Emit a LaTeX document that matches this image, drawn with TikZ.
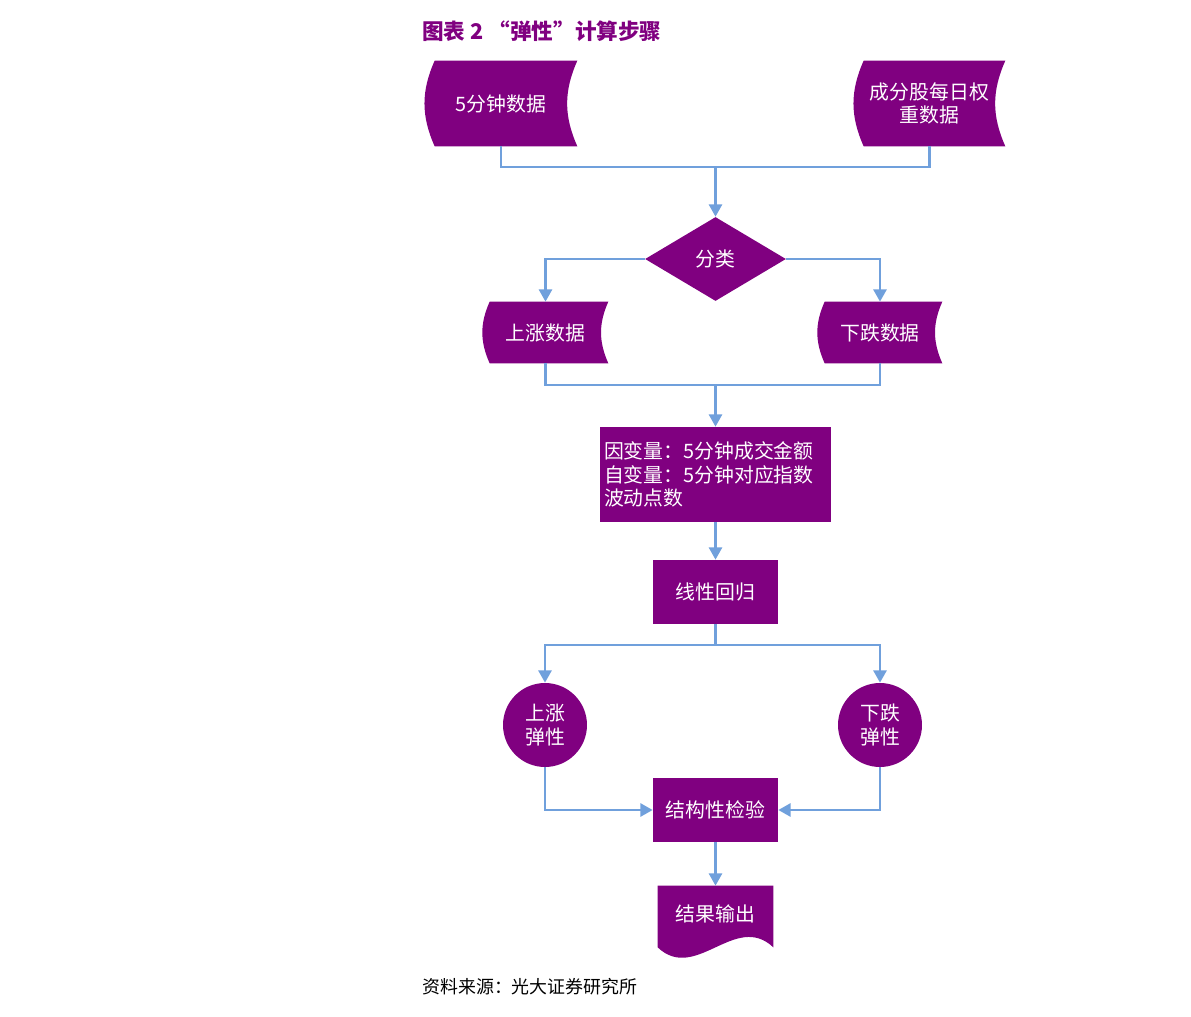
\documentclass[tikz,border=0pt]{standalone}
\usepackage{fontspec}
\setmainfont{Noto Sans CJK SC}
\usetikzlibrary{arrows.meta,shapes.geometric,backgrounds}

\definecolor{purp}{RGB}{128,0,128}
\definecolor{flow}{RGB}{112,160,220}

\tikzset{
  box/.style={fill=purp, text=white, inner sep=0pt, font=\fontsize{11.3}{13.3}\selectfont},
  blank/.style={text=white, inner sep=0pt, font=\fontsize{11.3}{13.3}\selectfont},
  line/.style={draw=flow, line width=1.3pt},
  arr/.style={line, -{Triangle[width=7.5pt,length=7pt]}}
}

\begin{document}
\begin{tikzpicture}[x=0.02cm,y=0.02cm]
  \useasboundingbox (0,0) rectangle (1191,-1017);

  % Titulo
  \node[anchor=west, inner sep=0pt, text=purp, font=\fontsize{12.3}{14}\selectfont\bfseries] (title) at (422,-31) {图表 2 “弹性”计算步骤};

  % Datos de entrada
  \node[blank, minimum width=3.04cm, minimum height=1.70cm] (min5) at (501,-103.5) {5分钟数据};
  \node[blank, minimum width=3.02cm, minimum height=1.70cm, align=center] (wgt) at (929.5,-103.5) {成分股每日权\\重数据};

  % Clasificacion
  \node[box, diamond, aspect=1.68, minimum width=2.82cm, minimum height=1.68cm] (cls) at (715.5,-259) {分类};
  \node[blank, minimum width=2.50cm, minimum height=1.22cm] (up) at (545.5,-332.5) {上涨数据};
  \node[blank, minimum width=2.48cm, minimum height=1.22cm] (down) at (880,-332.5) {下跌数据};

  % Regresion
  \node[box, minimum width=4.62cm, minimum height=1.90cm, text width=4.46cm, align=left] (vars) at (715.5,-474.5) {因变量：5分钟成交金额\\自变量：5分钟对应指数\\波动点数};
  \node[box, minimum width=2.50cm, minimum height=1.28cm] (reg) at (715.5,-592) {线性回归};

  % Elasticidades
  \node[box, circle, minimum size=1.68cm, align=center] (upE) at (545,-725) {上涨\\弹性};
  \node[box, circle, minimum size=1.68cm, align=center] (downE) at (880,-725) {下跌\\弹性};
  \node[box, minimum width=2.50cm, minimum height=1.28cm] (chk) at (715.5,-810) {结构性检验};
  \node[blank, minimum width=2.30cm, minimum height=1.22cm] (out) at (715.5,-916.5) {\raisebox{4pt}{结果输出}};

  \node[anchor=west, inner sep=0pt, font=\fontsize{10.2}{12}\selectfont] (src) at (422,-987) {资料来源：光大证券研究所};

  % Formas de fondo
  \begin{scope}[on background layer]
    \fill[purp] ([xshift=0.2cm]min5.north west) to[bend right=24] ([xshift=0.2cm]min5.south west)
      -- (min5.south east) to[bend left=24] (min5.north east) -- cycle;
    \fill[purp] ([xshift=0.2cm]wgt.north west) to[bend right=24] ([xshift=0.2cm]wgt.south west)
      -- (wgt.south east) to[bend left=24] (wgt.north east) -- cycle;
    \fill[purp] ([xshift=0.14cm]up.north west) to[bend right=24] ([xshift=0.14cm]up.south west)
      -- (up.south east) to[bend left=24] (up.north east) -- cycle;
    \fill[purp] ([xshift=0.14cm]down.north west) to[bend right=24] ([xshift=0.14cm]down.south west)
      -- (down.south east) to[bend left=24] (down.north east) -- cycle;
    \fill[purp] (out.north west) -- (out.south west)
      .. controls +(38,-36) and +(-38,36) .. (out.south east) -- (out.north east) -- cycle;
  \end{scope}

  % Flechas
  \coordinate (join1) at (715.5,-167);
  \coordinate (join2) at (715.5,-385);
  \coordinate (join3) at (715.5,-645);
  \draw[line] (min5.south) -- (min5.south |- join1) -- (wgt.south |- join1) -- (wgt.south);
  \draw[arr] (join1) -- (cls.north);
  \draw[arr] (cls.west) -| (up.north);
  \draw[arr] (cls.east) -| (down.north);
  \draw[line] (up.south) -- (up.south |- join2) -- (down.south |- join2) -- (down.south);
  \draw[arr] (join2) -- (vars.north);
  \draw[arr] (vars.south) -- (reg.north);
  \draw[line] (reg.south) -- (join3);
  \draw[arr] (join3) -| (upE.north);
  \draw[arr] (join3) -| (downE.north);
  \draw[arr] (upE.south) |- (chk.west);
  \draw[arr] (downE.south) |- (chk.east);
  \draw[arr] (chk.south) -- (out.north);

\end{tikzpicture}
\end{document}
